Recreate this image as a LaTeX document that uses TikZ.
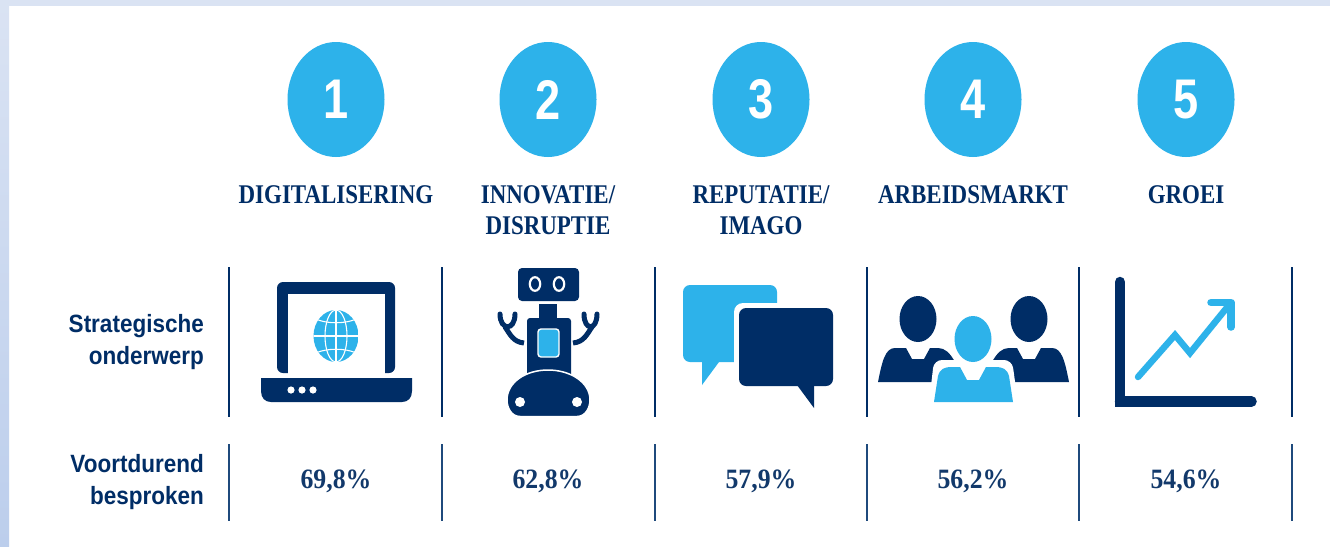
\documentclass[tikz,border=0pt]{standalone}
\usepackage{fontspec}
\usetikzlibrary{shapes.geometric}
\setmainfont{Liberation Serif}
\setsansfont{Liberation Sans}
\newfontfamily\headfont[FakeStretch=0.85]{Liberation Serif}
\newfontfamily\rowfont[FakeStretch=0.9]{Liberation Sans}
\newfontfamily\valfont[FakeStretch=0.92]{Liberation Serif}
\newcommand{\tallnum}[1]{\scalebox{1.05}[1.3]{#1}}
\definecolor{navy}{HTML}{002D66}
\definecolor{sky}{HTML}{2DB2EA}
\definecolor{edgeA}{HTML}{DAE3F3}
\definecolor{edgeB}{HTML}{BCCEEC}
\definecolor{softnavy}{HTML}{1F4A7C}
\definecolor{valnavy}{HTML}{12396B}
\tikzset{
  divider/.style={navy,line width=2.4pt},
  lowdivider/.style={softnavy,line width=2pt},
  badge/.style={ellipse,fill=sky,minimum width=97pt,minimum height=115pt,inner sep=0pt,text=white,font=\sffamily\bfseries\fontsize{43}{43}\selectfont},
  headtext/.style={navy,align=center,font=\headfont\bfseries\fontsize{27}{31}\selectfont,inner sep=0pt,anchor=base},
  rowtext/.style={navy,align=right,font=\rowfont\bfseries\fontsize{25}{32}\selectfont,inner sep=0pt,anchor=east},
  valtext/.style={valnavy,font=\valfont\bfseries\fontsize{28}{28}\selectfont,inner sep=0pt},
  arm/.style={navy,line width=5pt},
  armfork/.style={navy,line width=5pt,line cap=round},
}
\begin{document}
\begin{tikzpicture}[x=1pt,y=-1pt]
\useasboundingbox (0,0) rectangle (1330,546);
% page surround
\fill[white] (0,0) rectangle (1330,546);
\fill[edgeA] (0,0) rectangle (1330,6);
\shade[top color=edgeA,bottom color=edgeB] (0,0) rectangle (9,546);
% badges
\node[badge] (b1) at (336,99.5) {\tallnum{1}};
\node[badge] (b2) at (548,99.5) {\tallnum{2}};
\node[badge] (b3) at (761,99.5) {\tallnum{3}};
\node[badge] (b4) at (973,99.5) {\tallnum{4}};
\node[badge] (b5) at (1186,99.5) {\tallnum{5}};
% headings
\node[headtext] (h1) at (336,203) {DIGITALISERING};
\node[headtext] (h2) at (548,234) {INNOVATIE/\\DISRUPTIE};
\node[headtext] (h3) at (761,234) {REPUTATIE/\\IMAGO};
\node[headtext] (h4) at (973,203) {ARBEIDSMARKT};
\node[headtext] (h5) at (1186,203) {GROEI};
% row labels
\node[rowtext] (r1) at (204,342) {Strategische\\onderwerp};
\node[rowtext] (r2) at (204,482) {Voortdurend\\besproken};
% values
\node[valtext] (v1) at (336,481) {69,8\%};
\node[valtext] (v2) at (548,481) {62,8\%};
\node[valtext] (v3) at (761,481) {57,9\%};
\node[valtext] (v4) at (973,481) {56,2\%};
\node[valtext] (v5) at (1186,481) {54,6\%};
% dividers
\foreach \x in {229,442,655,867,1079,1292}{
  \draw[divider] (\x,267) -- (\x,417);
  \draw[lowdivider] (\x,444) -- (\x,521);
}
% laptop
\fill[navy,rounded corners=6pt] (277,373) -- (277,282) -- (395,282) -- (395,373) -- cycle;
\fill[white] (288,293.5) rectangle (385,373.5);
\fill[navy] (261,378) -- (412,378) -- (412,391) .. controls (412,398) and (408,402) .. (402,402) -- (271,402) .. controls (265,402) and (261,398) .. (261,391) -- cycle;
\foreach \x in {291,302,313}{\fill[white] (\x,390) circle (3.6pt);}
\begin{scope}
\clip (336,336) ellipse (22.5pt and 26pt);
\fill[sky] (313,310) rectangle (359,362);
\draw[white,line width=1.1pt] (313,336) -- (359,336);
\draw[white,line width=1.1pt] (316,319) .. controls (326,324) and (346,324) .. (356,319);
\draw[white,line width=1.1pt] (316,353) .. controls (326,348) and (346,348) .. (356,353);
\draw[white,line width=1.1pt] (336,310) -- (336,362);
\draw[white,line width=1.1pt] (336,336) ellipse (11pt and 26pt);
\end{scope}
% robot
\fill[navy,rounded corners=4pt] (518,268) rectangle (579,301);
\foreach \x in {535,559}{\draw[white,line width=2.2pt] (\x,284) ellipse (5.2pt and 6.8pt);}
\fill[navy] (539,304) rectangle (557,320);
\fill[navy,rounded corners=3pt] (527,318) -- (571,318) -- (571,378) -- (527,378) -- cycle;
\fill[sky,draw=white,line width=1.4pt,rounded corners=3pt] (538,329) rectangle (559,357);
\fill[navy,draw=white,line width=1.5pt] (520,416.5) .. controls (511,416.5) and (507,407) .. (507,400)
  .. controls (507,382) and (526,370) .. (548,370)
  .. controls (570,370) and (590,382) .. (590,400)
  .. controls (590,407) and (586,416.5) .. (577,416.5) -- cycle;
\fill[white] (520,402) circle (5pt);
\fill[white] (577,402) circle (5pt);
\draw[arm] (524,343) .. controls (513,342) and (510,334) .. (505,327);
\draw[arm] (573,343) .. controls (584,342) and (587,334) .. (592,327);
\draw[armfork] (500,314) .. controls (500,331) and (515,331) .. (515,314);
\draw[armfork] (584,314) .. controls (584,331) and (597,331) .. (597,314);
% speech bubbles
\fill[sky,rounded corners=7pt] (683,285) rectangle (777,362);
\fill[sky] (702,355) -- (702,385) -- (719,362) -- (719,355) -- cycle;
\fill[white,rounded corners=9pt] (734,303) rectangle (838,391);
\fill[navy,rounded corners=7pt] (739,308) rectangle (833,386);
\fill[navy] (797,385) -- (814,408) -- (814,385) -- cycle;
% people
\fill[navy] (918,319) ellipse (18.5pt and 23pt);
\fill[navy] (1029,319) ellipse (18.5pt and 23pt);
\fill[navy] (878,382) .. controls (882,362) and (885,348) .. (895,348) -- (906,348) -- (912,359) -- (924,359) -- (930,348) -- (938,348) .. controls (945,348) and (950,353) .. (955,362) -- (955,382) -- cycle;
\fill[navy] (1069,382) .. controls (1065,362) and (1062,348) .. (1052,348) -- (1041,348) -- (1035,359) -- (1023,359) -- (1017,348) -- (1009,348) .. controls (1002,348) and (997,353) .. (992,362) -- (992,382) -- cycle;
\fill[white] (973,339) ellipse (23pt and 27.5pt);
\fill[white,rounded corners=8pt] (929,403) -- (934,360) -- (1012,360) -- (1018,403) -- cycle;
\fill[sky] (973,339) ellipse (18.5pt and 23pt);
\fill[sky] (934,402) -- (938,376) .. controls (940,369) and (944,367) .. (952,367) -- (960,367) -- (967,380) -- (979,380) -- (986,367) -- (995,367) .. controls (1003,367) and (1007,369) .. (1009,376) -- (1013,402) -- cycle;
% chart
\draw[navy,line width=10.5pt,line cap=round] (1120,282) -- (1120,401.5);
\draw[navy,line width=10.5pt,line cap=round] (1120,401.5) -- (1251.5,401.5);
\fill[navy] (1114.7,396) rectangle (1125,407);
\draw[sky,line width=6.5pt,line cap=round,line join=miter] (1138,377) -- (1175,335) -- (1190,353) -- (1229,305);
\draw[sky,line width=7.5pt,line cap=round,line join=round] (1211,302.5) -- (1231,302.5) -- (1231,327);
\end{tikzpicture}
\end{document}
